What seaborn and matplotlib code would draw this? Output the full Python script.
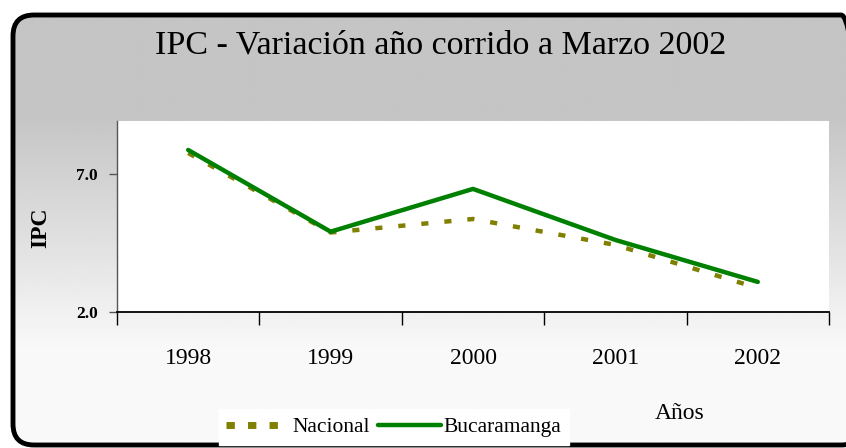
import numpy as np
import pandas as pd
import matplotlib
matplotlib.use('Agg')
import matplotlib.pyplot as plt
import seaborn as sns
from matplotlib.patches import FancyBboxPatch

# data
years = ['1998', '1999', '2000', '2001', '2002']
nacional = [7.76, 4.88, 5.37, 4.43, 2.87]
bucaramanga = [7.87, 4.91, 6.46, 4.61, 3.09]
series_names = ['Nacional', 'Bucaramanga']
y_ticks = [2.0, 7.0]
y_tick_labels = ['2.0', '7.0']

df = pd.DataFrame({
    'Año': years * 2,
    'IPC': nacional + bucaramanga,
    'Serie': [series_names[0]] * len(years) + [series_names[1]] * len(years),
})

sns.set_theme(style='white')
plt.rcParams['font.family'] = ['Liberation Serif', 'DejaVu Serif']
plt.rcParams['text.color'] = 'black'
plt.rcParams['axes.labelcolor'] = 'black'
plt.rcParams['xtick.color'] = 'black'
plt.rcParams['ytick.color'] = 'black'

W, H = 846, 448
fig = plt.figure(figsize=(W / 100, H / 100), dpi=100)
fig.patch.set_facecolor('white')

# background panel with rounded black border and vertical gradient
bg = fig.add_axes([0, 0, 1, 1])
bg.set_xlim(0, W)
bg.set_ylim(0, H)
bg.axis('off')
x0, y0, x1, y1 = 13, 3, 862, 433  # pixel coords, y measured from bottom
yy = np.linspace(0, 1, 256)[:, None]
grad = np.clip((yy - 0.22) / 0.52, 0, 1)
col = 0.975 - grad * (0.975 - 0.772)
img = np.repeat(col, 2, axis=1)
im = bg.imshow(img, extent=[0, W, 0, H], origin='lower', cmap='gray',
               vmin=0, vmax=1, aspect='auto', zorder=1)
clip = FancyBboxPatch((x0, y0), x1 - x0, y1 - y0,
                      boxstyle='round,pad=0,rounding_size=21',
                      facecolor='none', edgecolor='none', transform=bg.transData)
bg.add_patch(clip)
im.set_clip_path(clip)
box = FancyBboxPatch((x0, y0), x1 - x0, y1 - y0,
                     boxstyle='round,pad=0,rounding_size=21',
                     facecolor='none', edgecolor='black', linewidth=3.5, zorder=3)
bg.add_patch(box)

fig.text(441 / W, 1 - 45 / H, 'IPC - Variación año corrido a Marzo 2002',
         ha='center', va='center', fontsize=24.5)

ax = fig.add_axes([117 / W, 1 - 312 / H, (829 - 117) / W, (312 - 121) / H])
ax.set_facecolor('white')
sns.lineplot(data=df, x='Año', y='IPC', hue='Serie', style='Serie',
             palette={'Nacional': '#808000', 'Bucaramanga': '#008000'},
             dashes={'Nacional': (1.6, 3.6), 'Bucaramanga': ''},
             linewidth=3.2, ax=ax, legend=False, sort=False)
for ln in ax.get_lines():
    ln.set_dash_capstyle('butt')
    ln.set_solid_capstyle('round')

ax.set_xlim(-0.5, len(years) - 0.5)
ax.set_ylim(2.0, 8.92)
ax.set_xticks(np.arange(-0.5, len(years), 1.0))
ax.set_xticklabels([])
ax.set_xticks(np.arange(len(years)), minor=True)
ax.set_xticklabels(years, minor=True, fontsize=17)
ax.tick_params(axis='x', which='major', direction='out', length=9, width=1,
               color='black', bottom=True)
ax.tick_params(axis='x', which='minor', length=0, pad=26)
ax.set_yticks(y_ticks)
ax.set_yticklabels(y_tick_labels, fontsize=12.5, fontweight='bold')
ax.tick_params(axis='y', direction='out', length=6, width=1, color='#555555',
               left=True, pad=8)
ax.set_xlabel('')
ax.set_ylabel('IPC', fontsize=17, fontweight='bold')
ax.yaxis.set_label_coords(-0.092, 0.44)
for side in ['top', 'right']:
    ax.spines[side].set_visible(False)
ax.spines['left'].set_color('#555555')
ax.spines['left'].set_linewidth(1)
ax.spines['bottom'].set_color('black')
ax.spines['bottom'].set_linewidth(1.3)

# legend at the bottom
handles = [plt.Line2D([], [], color='#808000', linewidth=5, linestyle=(0, (1.2, 1.9)),
                      dash_capstyle='butt'),
           plt.Line2D([], [], color='#008000', linewidth=3.2)]
leg = fig.legend(handles, series_names, loc='center',
                 bbox_to_anchor=(394 / W, 1 - 427 / H), ncol=2, fontsize=15.5,
                 frameon=True, fancybox=False, framealpha=1, edgecolor='white',
                 facecolor='white', handlelength=2.9, handletextpad=0.15,
                 columnspacing=0.4, borderpad=0.35)

fig.text(680 / W, 1 - 413 / H, 'Años', ha='center', va='center', fontsize=17)

fig.savefig('out.png', dpi=100)
